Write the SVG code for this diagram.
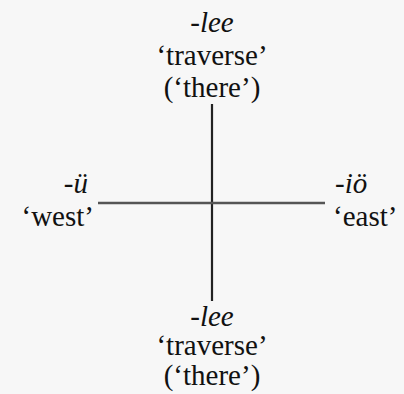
<svg xmlns="http://www.w3.org/2000/svg" width="404" height="394" viewBox="0 0 404 394">
<style>
text{font-family:"Liberation Serif","Times New Roman",serif;font-size:29px;fill:#111}
.i{font-style:italic}
.c{text-anchor:middle}
.e{text-anchor:end}
.ln{stroke:#222;stroke-width:2.2}
.h{stroke:#555;stroke-width:2.6}
</style>
<rect width="404" height="394" fill="#f7f7f7"/>
<g id="connectors">
<line class="ln" x1="212" y1="104" x2="212" y2="301"/>
<line class="h" x1="98" y1="203" x2="325" y2="203"/>
</g>
<g id="top">
<text class="c i" x="212" y="32">-lee</text>
<text class="c" x="212" y="65">‘traverse’</text>
<text class="c" x="212" y="97">(‘there’)</text>
</g>
<g id="west">
<text class="e i" x="88" y="193">-ü</text>
<text class="e" x="94" y="226">‘west’</text>
</g>
<g id="east">
<text class="i" x="335" y="193">-iö</text>
<text x="333" y="226">‘east’</text>
</g>
<g id="bottom">
<text class="c i" x="212" y="326">-lee</text>
<text class="c" x="212" y="355">‘traverse’</text>
<text class="c" x="212" y="385">(‘there’)</text>
</g>
</svg>
